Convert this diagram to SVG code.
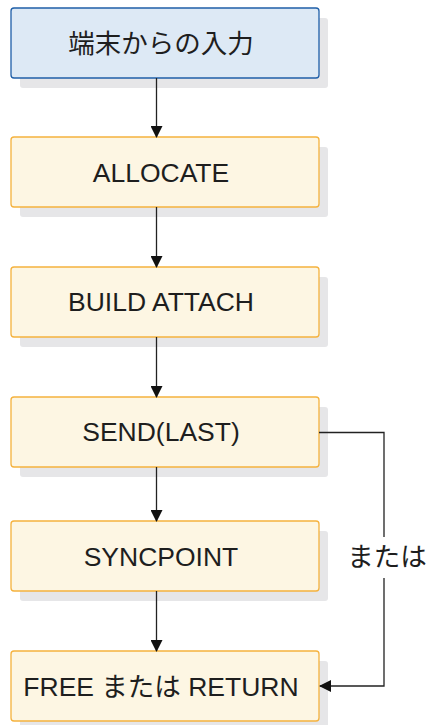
<svg xmlns="http://www.w3.org/2000/svg" width="427" height="725" viewBox="0 0 427 725">
<style>
.sh{fill:#e6e6e8}
.bx{fill:#fdf6e3;stroke:#f5b23e;stroke-width:1.3}
.bl{fill:#dde9f5;stroke:#1f5fa8;stroke-width:1.3}
.t{font-family:"Liberation Sans","Noto Sans CJK JP",sans-serif;font-size:26.5px;fill:#1e1e1e;text-anchor:middle}
.c{fill:none;stroke:#222;stroke-width:1.3}
</style>
<defs>
<marker id="ah" markerWidth="12" markerHeight="12" refX="11" refY="6" orient="auto" markerUnits="userSpaceOnUse">
<path d="M0,0 L12,6 L0,12 Z" fill="#111"/>
</marker>
</defs>
<rect x="0" y="0" width="427" height="725" fill="#fff"/>
<g id="n1"><rect class="sh" x="20" y="18" width="308" height="70" rx="3"/><rect class="bl" x="11" y="8" width="308" height="70" rx="3"/><text class="t" x="161" y="53">端末からの入力</text></g>
<g id="n2"><rect class="sh" x="20" y="147" width="308" height="70" rx="3"/><rect class="bx" x="11" y="137" width="308" height="70" rx="3"/><text class="t" x="161" y="181.5">ALLOCATE</text></g>
<g id="n3"><rect class="sh" x="20" y="277" width="308" height="70" rx="3"/><rect class="bx" x="11" y="267" width="308" height="70" rx="3"/><text class="t" x="161" y="310.5">BUILD ATTACH</text></g>
<g id="n4"><rect class="sh" x="20" y="407" width="308" height="70" rx="3"/><rect class="bx" x="11" y="397" width="308" height="70" rx="3"/><text class="t" x="161" y="440.5">SEND(LAST)</text></g>
<g id="n5"><rect class="sh" x="20" y="531" width="308" height="70" rx="3"/><rect class="bx" x="11" y="521" width="308" height="70" rx="3"/><text class="t" x="161" y="565.5">SYNCPOINT</text></g>
<g id="n6"><rect class="sh" x="20" y="661" width="308" height="70" rx="3"/><rect class="bx" x="11" y="651" width="308" height="70" rx="3"/><text class="t" x="161" y="695.5">FREE または RETURN</text></g>
<g id="connectors">
<line class="c" x1="156.5" y1="78" x2="156.5" y2="137" marker-end="url(#ah)"/>
<line class="c" x1="156.5" y1="207" x2="156.5" y2="267" marker-end="url(#ah)"/>
<line class="c" x1="156.5" y1="337" x2="156.5" y2="397" marker-end="url(#ah)"/>
<line class="c" x1="156.5" y1="467" x2="156.5" y2="521" marker-end="url(#ah)"/>
<line class="c" x1="156.5" y1="591" x2="156.5" y2="651" marker-end="url(#ah)"/>
<polyline class="c" points="319,432.5 384,432.5 384,686 320,686" marker-end="url(#ah)"/>
<rect x="345" y="537" width="82" height="41" fill="#fff"/>
<text class="t" x="387" y="565.5">または</text>
</g>
</svg>
